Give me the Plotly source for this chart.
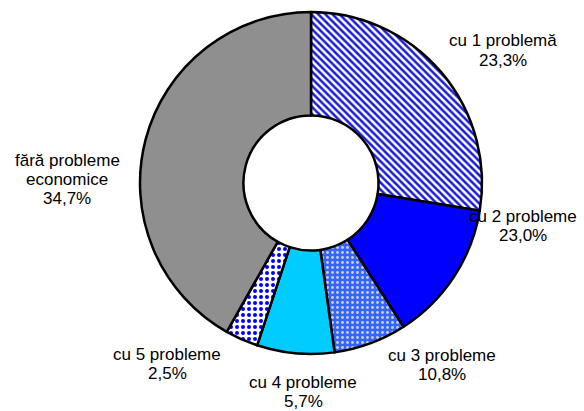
import plotly.graph_objects as go

# Data (categories, slice shares as drawn, and printed percentage labels)
categories = ["cu 1 problemă", "cu 2 probleme", "cu 3 probleme",
              "cu 4 probleme", "cu 5 probleme", "fără probleme economice"]
slice_shares = [27.6, 13.3, 6.9, 7.3, 3.1, 41.8]
pct_labels = ["23,3%", "23,0%", "10,8%", "5,7%", "2,5%", "34,7%"]

# Styles
fill_colors = ["#ffffff", "#0000ff", "#3366ff", "#00ccff", "#ffffff", "#8f8f8f"]
pattern_shapes = ["\\", "", ".", "", ".", ""]
pattern_fg = ["#1a1ad8", "#0000ff", "#d0d0d0", "#00ccff", "#0000ff", "#8f8f8f"]
pattern_size = [5, 8, 5, 8, 6, 8]
pattern_solidity = [0.5, 0.3, 0.25, 0.3, 0.35, 0.3]

# label text lines and positions (px from top-left: center x, first line center y)
label_lines = [["cu 1 problemă"], ["cu 2 probleme"], ["cu 3 probleme"],
               ["cu 4 probleme"], ["cu 5 probleme"], ["fără probleme", "economice"]]
label_pos = [(503, 41), (523, 216), (442, 355), (303, 382), (167, 354), (67, 160)]
line_gap = 19.5

W, H = 584, 411
cx, cy, r = 311, 183, 171

fig = go.Figure(go.Pie(
    labels=categories,
    values=slice_shares,
    sort=False,
    direction="clockwise",
    rotation=0,
    hole=0.395,
    textinfo="none",
    hoverinfo="label",
    marker=dict(
        colors=fill_colors,
        line=dict(color="#000000", width=2.5),
        pattern=dict(shape=pattern_shapes, fgcolor=pattern_fg,
                     bgcolor=fill_colors, size=pattern_size,
                     solidity=pattern_solidity, fillmode="replace"),
    ),
    domain=dict(x=[(cx - r) / W, (cx + r) / W],
                y=[(H - cy - r) / H, (H - cy + r) / H]),
    showlegend=False,
))

font = dict(family="Liberation Sans, Arial, sans-serif", size=17, color="#000000")
for lines, pct, (px, py) in zip(label_lines, pct_labels, label_pos):
    for i, t in enumerate(lines + [pct]):
        fig.add_annotation(
            x=px / W, y=1 - (py + i * line_gap) / H, xref="paper", yref="paper",
            text=t, showarrow=False, font=font,
            xanchor="center", yanchor="middle",
        )

fig.update_layout(
    width=W, height=H,
    margin=dict(l=0, r=0, t=0, b=0),
    paper_bgcolor="#ffffff", plot_bgcolor="#ffffff",
)

fig.write_html("out.html", config={"displayModeBar": False},
               post_script="document.body.style.margin='0';document.body.style.padding='0';")
